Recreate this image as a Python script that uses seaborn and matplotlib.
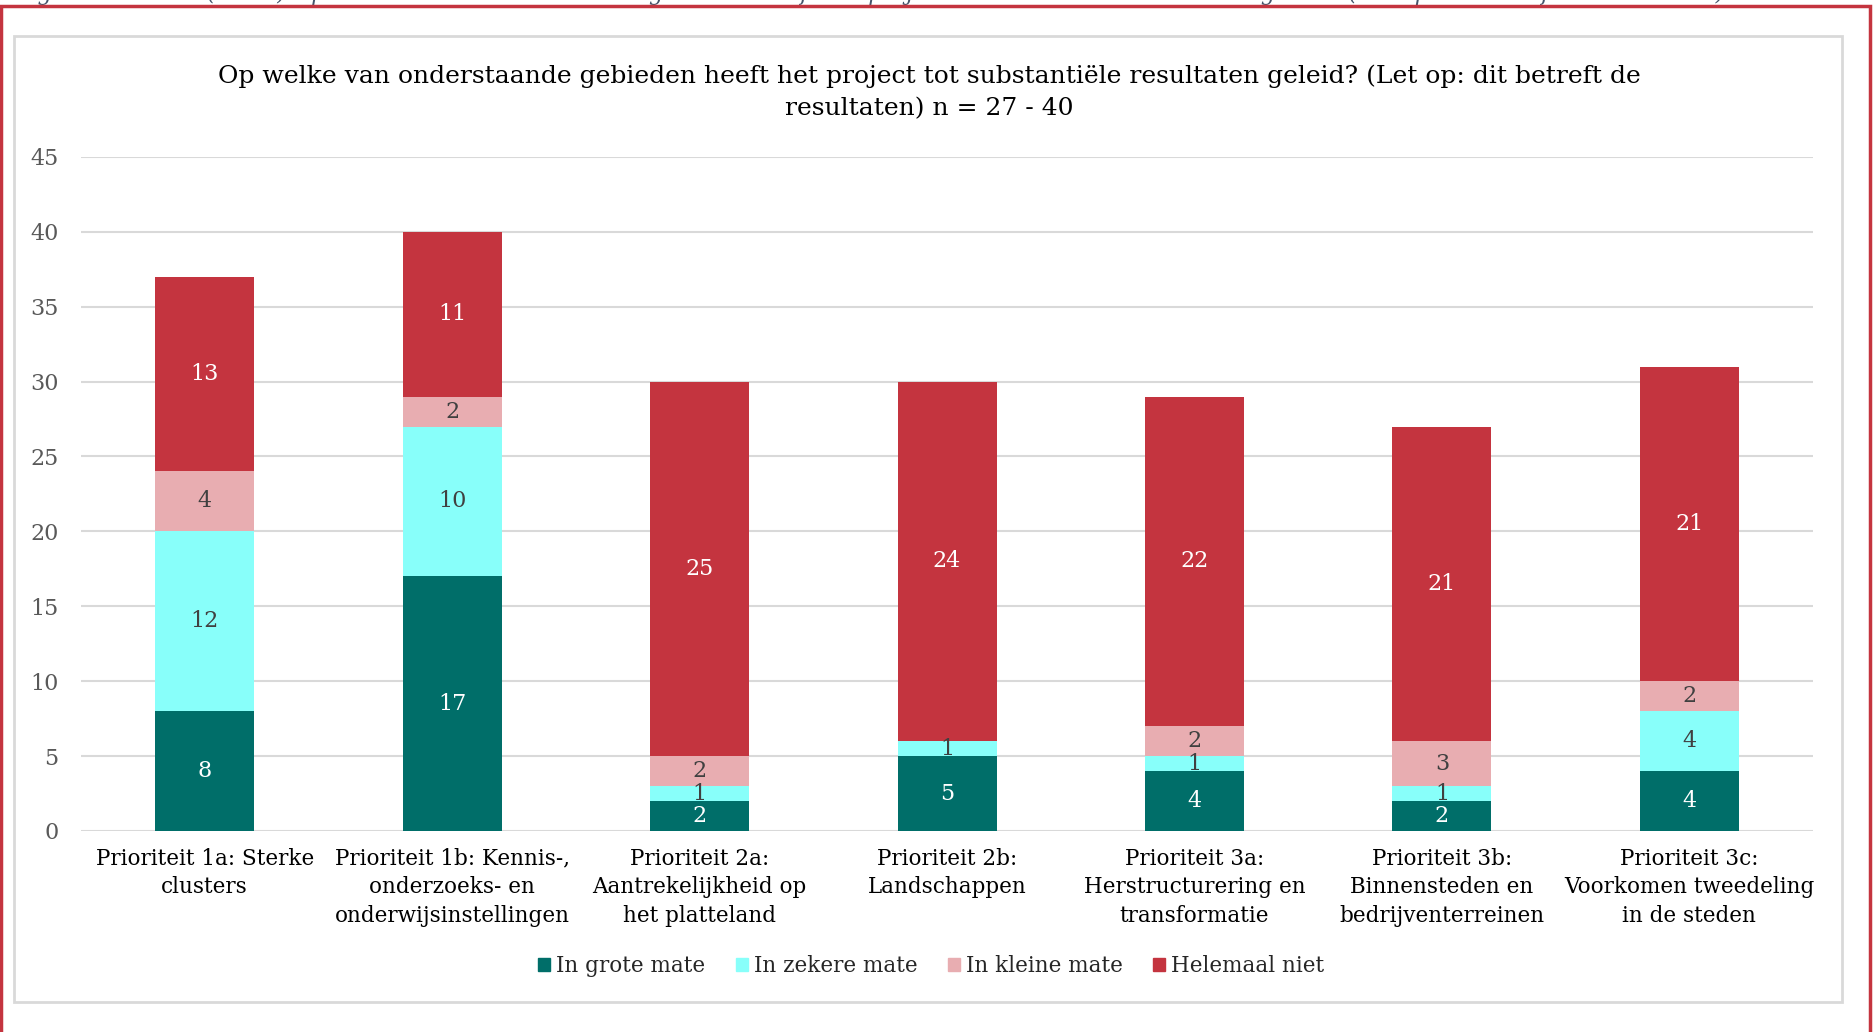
import matplotlib
matplotlib.use("Agg")
import matplotlib.pyplot as plt
import matplotlib.patches as mpatches
import numpy as np
import pandas as pd
import seaborn as sns

# ------------------------ Data ------------------------
categories = [
    "Prioriteit 1a: Sterke\nclusters",
    "Prioriteit 1b: Kennis-,\nonderzoeks- en\nonderwijsinstellingen",
    "Prioriteit 2a:\nAantrekelijkheid op\nhet platteland",
    "Prioriteit 2b:\nLandschappen",
    "Prioriteit 3a:\nHerstructurering en\ntransformatie",
    "Prioriteit 3b:\nBinnensteden en\nbedrijventerreinen",
    "Prioriteit 3c:\nVoorkomen tweedeling\nin de steden",
]
grote_mate = [8, 17, 2, 5, 4, 2, 4]
zekere_mate = [12, 10, 1, 1, 1, 1, 4]
kleine_mate = [4, 2, 2, 0, 2, 3, 2]
helemaal_niet = [13, 11, 25, 24, 22, 21, 21]

series_names = ["In grote mate", "In zekere mate", "In kleine mate", "Helemaal niet"]
colors = ["#006E69", "#88FFFA", "#E8ADB1", "#C4343F"]
label_colors = ["white", "#404040", "#404040", "white"]

title = ("Op welke van onderstaande gebieden heeft het project tot substantiële resultaten geleid? "
         "(Let op: dit betreft de\nresultaten) n = 27 - 40")

# ------------------------ Build table ------------------------
df = pd.DataFrame({
    "categorie": categories,
    series_names[0]: grote_mate,
    series_names[1]: zekere_mate,
    series_names[2]: kleine_mate,
    series_names[3]: helemaal_niet,
})
cum = df[series_names].cumsum(axis=1)

sns.set_style("white")
plt.rcParams["font.family"] = ["DejaVu Serif"]

fig = plt.figure(figsize=(18.74, 10.32), dpi=100)
ax = fig.add_axes([0.0432, 0.1948, 0.9243, 0.6532])

# stacked bars: draw cumulative totals from top series down
for i in reversed(range(len(series_names))):
    sns.barplot(x=df["categorie"], y=cum[series_names[i]],
                color=colors[i], width=0.4, saturation=1, ax=ax, zorder=2, edgecolor="none")

# data labels
for i, name in enumerate(series_names):
    vals = df[name].values
    tops = cum[name].values
    for x, (v, t) in enumerate(zip(vals, tops)):
        if v > 0:
            ax.text(x, t - v / 2, str(v), ha="center", va="center",
                    fontsize=16, color=label_colors[i], zorder=3)

ax.set_ylim(0, 45)
ax.set_yticks(range(0, 46, 5))
ax.set_xlim(-0.5, len(categories) - 0.5)
ax.yaxis.grid(True, color="#D9D9D9", linewidth=1.5, zorder=0)
ax.set_axisbelow(True)
for s in ax.spines.values():
    s.set_visible(False)
ax.set_xlabel("")
ax.set_ylabel("")
ax.tick_params(axis="y", length=0, labelsize=16, labelcolor="#595959", pad=16)
ax.tick_params(axis="x", length=0, labelsize=15.5, labelcolor="black", pad=12)
ax.set_xticks(range(len(categories)))
ax.set_xticklabels(categories, linespacing=1.38)

ax.set_title(title, fontsize=18, color="black", pad=30, linespacing=1.5, x=0.49)

handles = [mpatches.Patch(color=c, label=n) for c, n in zip(colors, series_names)]
fig.legend(handles=handles, loc="center", bbox_to_anchor=(0.497, 0.064), ncol=4,
           frameon=False, fontsize=15.5, handlelength=0.55, handleheight=0.55,
           handletextpad=0.3, columnspacing=1.4)

# grey chart box and red outer frame
fig.patches.append(mpatches.Rectangle((14 / 1874, 1 - 1002 / 1032), (1842 - 14) / 1874, (1002 - 36) / 1032,
                                      transform=fig.transFigure, fill=False, edgecolor="#D9D9D9",
                                      linewidth=2, zorder=0))
fig.patches.append(mpatches.Rectangle((1.5 / 1874, -0.05), (1870 - 1.5) / 1874, 1.05 - 6.5 / 1032,
                                      transform=fig.transFigure, fill=False, edgecolor="#C4343F",
                                      linewidth=2.5, zorder=5))

# cropped caption above the frame (only its lower edge is visible)
fig.text(0.008, 1 + 6 / 1032, "Figuur 6: Aantal (n=40) Op welke van de onderstaande gebieden heeft het project tot "
         "substantiële resultaten geleid? (Let op: dit betreft de resultaten)",
         fontsize=16, style="italic", color="#44546A", va="center", ha="left")

fig.savefig("out.png", dpi=100)
